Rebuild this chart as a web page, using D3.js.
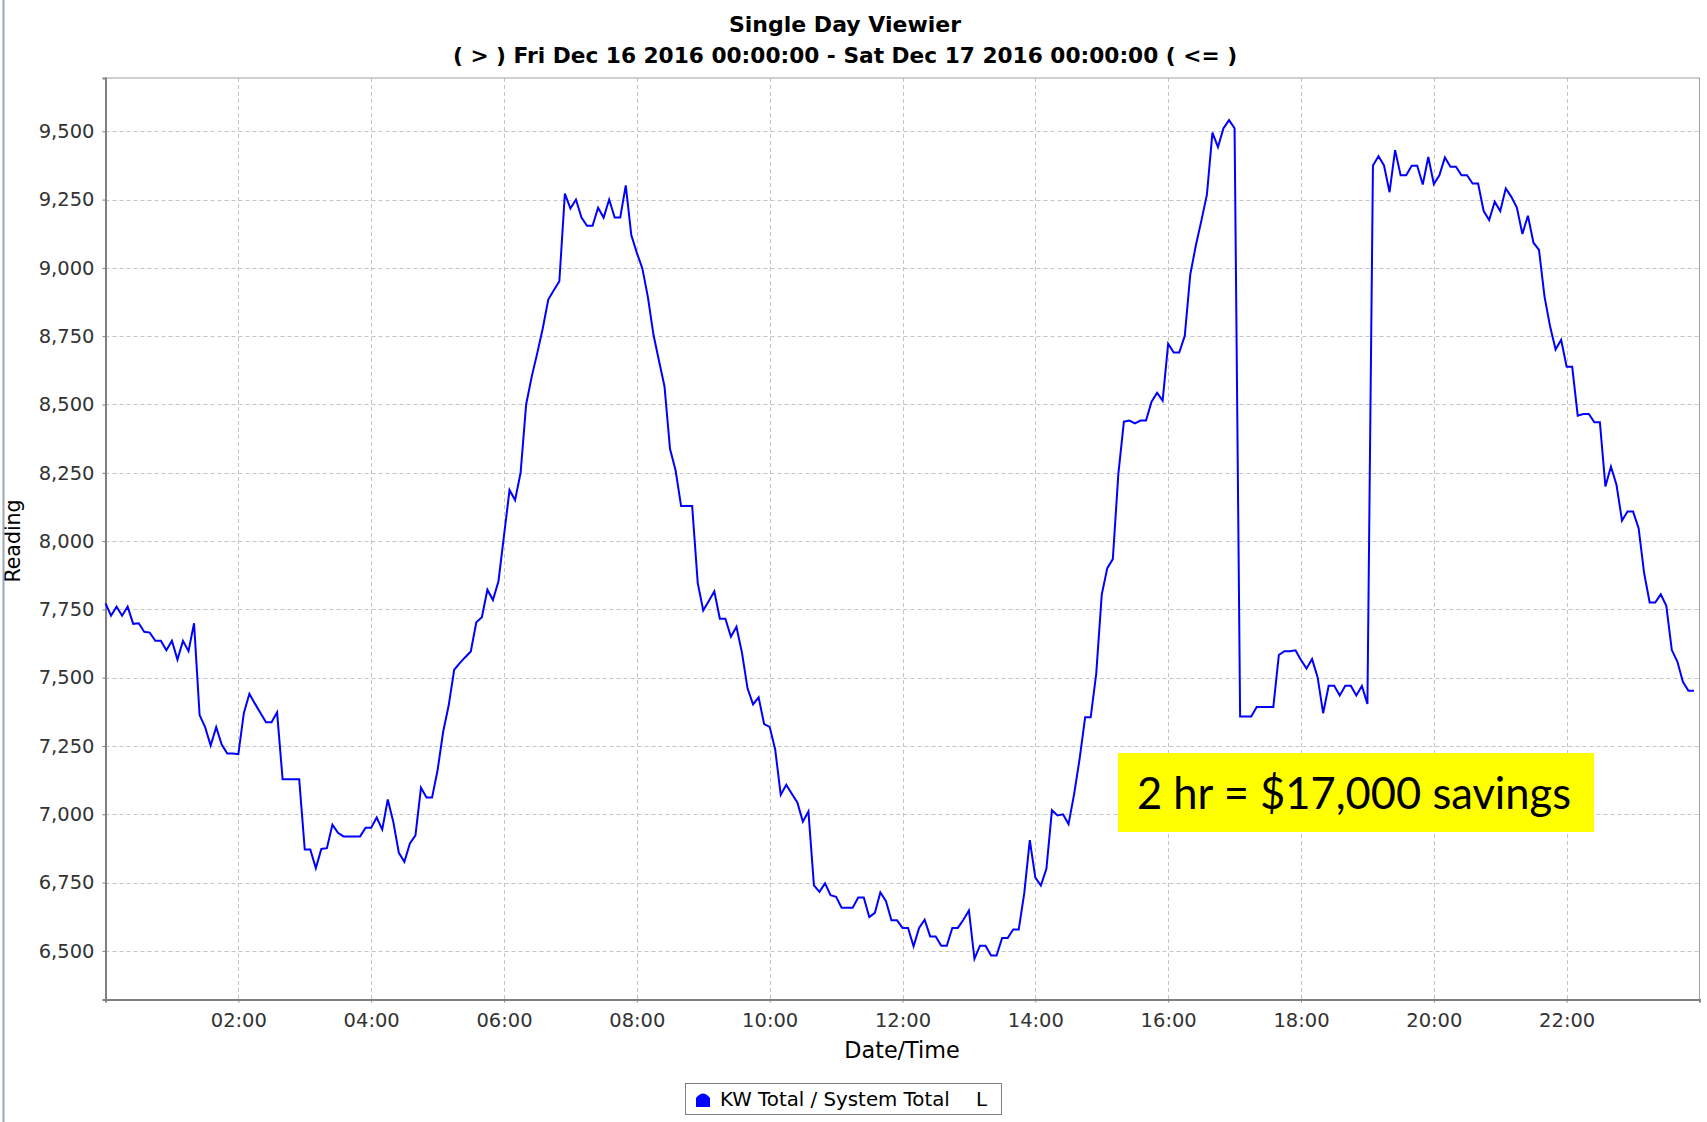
<!DOCTYPE html>
<html><head><meta charset="utf-8">
<script src="https://cdn.jsdelivr.net/npm/d3@7"></script>
<style>
html,body{margin:0;padding:0;background:#fff;}
svg{display:block;}
</style></head><body>
<svg id="chart" width="1707" height="1122"></svg>
<script>
// ---------------- data ----------------
const chartTitle = "Single Day Viewier";
const chartSubtitle = "( > ) Fri Dec 16 2016 00:00:00 - Sat Dec 17 2016 00:00:00 ( <= )";
const seriesName = "KW Total / System Total";
const seriesAxisFlag = "L";
const xAxisTitle = "Date/Time";
const yAxisTitle = "Reading";
const annotationText = "2 hr = $17,000 savings";
const startMinute = 0;          // 00:00
const intervalMinutes = 5;      // one reading every 5 minutes
const kwValues = [
  7772,7727,7760,7727,7760,7697,7699,7668,7665,7635,7635,7600,7635,7566,7635,7597,7699,7363,7319,7252,
  7319,7255,7222,7222,7220,7371,7441,7405,7371,7337,7337,7373,7128,7128,7128,7128,6871,6871,6803,6873,
  6876,6962,6932,6919,6919,6919,6919,6951,6951,6988,6944,7054,6972,6859,6826,6893,6923,7097,7061,7061,
  7161,7301,7398,7529,7553,7575,7596,7703,7721,7822,7784,7853,8020,8187,8150,8250,8500,8601,8687,8778,
  8884,8918,8951,9272,9217,9250,9184,9154,9154,9220,9184,9250,9184,9184,9302,9120,9055,8998,8893,8756,
  8660,8566,8337,8259,8128,8128,8128,7847,7746,7781,7816,7716,7716,7650,7686,7591,7461,7402,7428,7330,
  7320,7237,7071,7108,7075,7043,6973,7010,6740,6716,6747,6704,6698,6658,6658,6658,6695,6695,6624,6639,
  6714,6683,6612,6612,6584,6584,6517,6584,6614,6553,6553,6519,6519,6584,6584,6614,6648,6471,6519,6519,
  6483,6483,6547,6547,6578,6578,6711,6905,6768,6739,6800,7015,6996,7000,6964,7073,7203,7355,7355,7514,
  7804,7901,7934,8246,8437,8441,8431,8441,8441,8510,8543,8514,8722,8690,8690,8751,8976,9082,9173,9268,
  9495,9442,9511,9541,9511,7358,7358,7358,7393,7393,7393,7393,7583,7597,7597,7600,7565,7533,7568,7502,
  7370,7470,7470,7435,7470,7470,7435,7470,7404,9375,9409,9375,9277,9431,9339,9339,9374,9374,9305,9406,
  9307,9339,9404,9370,9370,9339,9339,9309,9309,9208,9175,9242,9208,9291,9260,9221,9124,9191,9092,9066,
  8895,8786,8701,8737,8638,8638,8459,8465,8465,8435,8435,8200,8273,8206,8075,8108,8108,8047,7882,7775,
  7775,7805,7763,7601,7559,7485,7452,7452
];
const yTickValues = [6500, 6750, 7000, 7250, 7500, 7750, 8000, 8250, 8500, 8750, 9000, 9250, 9500];
const xTickMinutes = [120, 240, 360, 480, 600, 720, 840, 960, 1080, 1200, 1320];
const xTickLabels = ["02:00","04:00","06:00","08:00","10:00","12:00","14:00","16:00","18:00","20:00","22:00"];
const xDomain = [0, 1440];
const yDomain = [6322, 9695];

// ---------------- drawing ----------------
const svg = d3.select("#chart");
const W = 1707, H = 1122;
const plot = {left: 105.5, right: 1699.5, top: 78, bottom: 999.5};
const fontUI = "'DejaVu Sans', Verdana, sans-serif";

svg.append("rect").attr("x",0).attr("y",0).attr("width",W).attr("height",H).attr("fill","#fff");

const x = d3.scaleLinear().domain(xDomain).range([plot.left, plot.right]);
const y = d3.scaleLinear().domain(yDomain).range([plot.bottom, plot.top]);

const points = kwValues.map((v,i)=>({t: startMinute + i*intervalMinutes, v}));

// gridlines
const grid = svg.append("g").attr("stroke","#c4c4c4").attr("stroke-width",1).attr("stroke-dasharray","4,3");
grid.selectAll("line.h").data(yTickValues).join("line").attr("class","h")
  .attr("x1",plot.left).attr("x2",plot.right)
  .attr("y1",d=>Math.round(y(d))+0.5).attr("y2",d=>Math.round(y(d))+0.5);
grid.selectAll("line.v").data(xTickMinutes).join("line").attr("class","v")
  .attr("y1",plot.top).attr("y2",plot.bottom)
  .attr("x1",d=>Math.round(x(d))+0.5).attr("x2",d=>Math.round(x(d))+0.5);

// plot outline
svg.append("rect").attr("x",plot.left).attr("y",plot.top)
  .attr("width",plot.right-plot.left).attr("height",plot.bottom-plot.top)
  .attr("fill","none").attr("stroke","#a0a0a0").attr("stroke-width",1);

// axes
const yAxis = d3.axisLeft(y).tickValues(yTickValues).tickFormat(d3.format(",")).tickSize(3).tickPadding(8);
const gy = svg.append("g").attr("transform",`translate(${plot.left},0)`).call(yAxis);
const xAxis = d3.axisBottom(x).tickValues(xTickMinutes).tickFormat((d,i)=>xTickLabels[i]).tickSize(3).tickPadding(11);
const gx = svg.append("g").attr("transform",`translate(0,${plot.bottom})`).call(xAxis);
[gx, gy].forEach(g=>{
  g.select(".domain").attr("stroke","#808080").attr("stroke-width",2);
  g.selectAll(".tick line").attr("stroke","#808080");
  g.selectAll("text").attr("font-family",fontUI).attr("font-size",19.5).attr("fill","#333");
});

// line
const line = d3.line().x(d=>x(d.t)).y(d=>y(d.v));
svg.append("path").datum(points).attr("d",line)
  .attr("fill","none").attr("stroke","#0000ff").attr("stroke-width",2).attr("stroke-linejoin","miter");

// titles
svg.append("text").attr("x",845).attr("y",32).attr("text-anchor","middle")
  .attr("font-family",fontUI).attr("font-weight","bold").attr("font-size",22).attr("fill","#000").text(chartTitle);
svg.append("text").attr("x",845).attr("y",63).attr("text-anchor","middle")
  .attr("font-family",fontUI).attr("font-weight","bold").attr("font-size",21.7).attr("fill","#000").text(chartSubtitle);

svg.append("text").attr("transform","translate(20,541) rotate(-90)").attr("text-anchor","middle")
  .attr("font-family",fontUI).attr("font-size",20.5).attr("fill","#000").text(yAxisTitle);
svg.append("text").attr("x",902).attr("y",1058).attr("text-anchor","middle")
  .attr("font-family",fontUI).attr("font-size",22.3).attr("fill","#000").text(xAxisTitle);

// annotation
svg.append("rect").attr("x",1118).attr("y",753).attr("width",476).attr("height",79).attr("fill","#ffff00");
svg.append("text").attr("x",1354).attr("y",809).attr("text-anchor","middle")
  .attr("font-family","Lato, 'Open Sans', sans-serif").attr("font-size",43.5).attr("fill","#000").text(annotationText);

// legend
const lg = svg.append("g");
lg.append("rect").attr("x",685.5).attr("y",1083.5).attr("width",316).attr("height",31)
  .attr("fill","#fff").attr("stroke","#808080").attr("stroke-width",1);
lg.append("path").attr("d","M696,1107 L696,1098 Q703,1089 710,1098 L710,1107 Z").attr("fill","#0000ff");
lg.append("text").attr("x",720).attr("y",1106).attr("font-family",fontUI).attr("font-size",19.8).attr("fill","#000").text(seriesName);
lg.append("text").attr("x",976).attr("y",1106).attr("font-family",fontUI).attr("font-size",19.8).attr("fill","#000").text(seriesAxisFlag);

// window frame
svg.append("line").attr("x1",3.5).attr("x2",3.5).attr("y1",0).attr("y2",H).attr("stroke","#9aa8b8").attr("stroke-width",2);
</script>
</body></html>
